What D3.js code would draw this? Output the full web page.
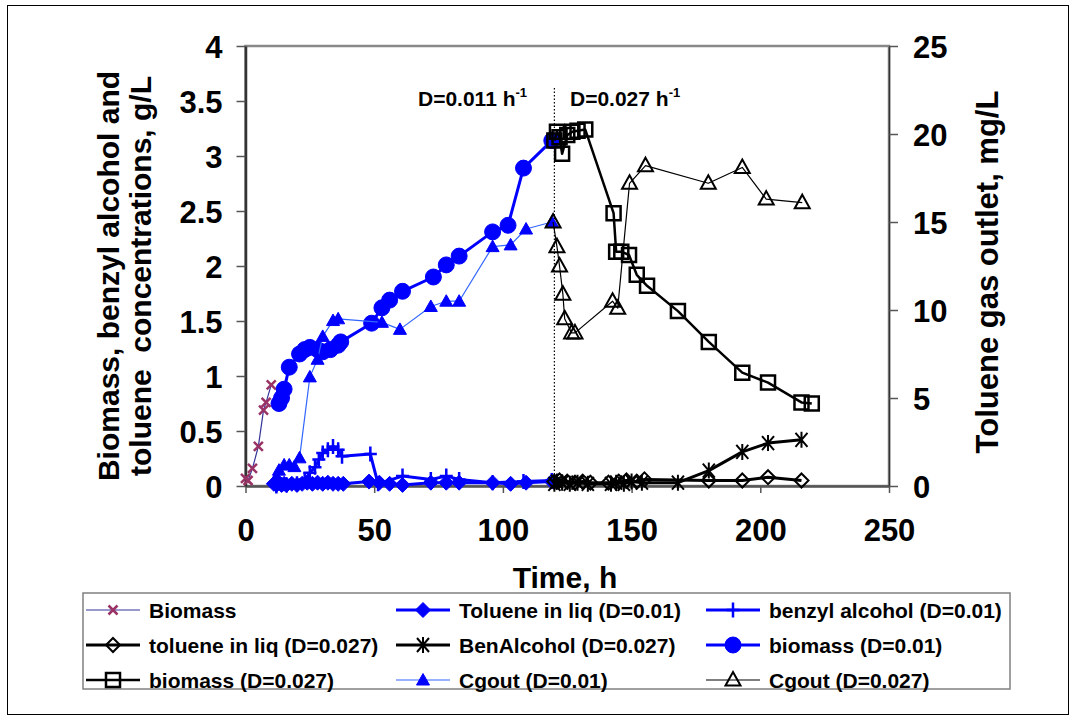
<!DOCTYPE html>
<html><head><meta charset="utf-8">
<script src="https://cdn.jsdelivr.net/npm/d3@7"></script>
<style>body{margin:0;background:#fff}svg{font-family:"Liberation Sans",Arial,sans-serif;font-weight:bold}</style>
</head><body>
<svg id="c" width="1076" height="721"></svg>
<script>
// ---------- data (time h, value) ----------
const biomass = [[0,0.07],[1,0.05],[2.7,0.16],[5,0.36],[7,0.69],[8,0.76],[10,0.92]];
const toluene01 = [[11,0.02],[12,0.01],[13,0.03],[14,0.01],[15,0.02],[16,0.01],[18,0.02],[20,0.01],[22,0.02],[24,0.03],[26,0.02],[28,0.03],[30,0.02],[32,0.03],[34,0.02],[36,0.02],[38,0.02],[48,0.04],[52,0.03],[56,0.02],[61,0.01],[72,0.03],[78,0.03],[83,0.03],[96,0.03],[103,0.02],[109,0.03],[119,0.04]];
const benzyl01 = [[12,0.0],[16,0.01],[20,0.02],[23,0.06],[25,0.12],[27,0.17],[28.5,0.24],[30,0.30],[32,0.33],[34,0.36],[36,0.33],[37.5,0.27],[48.5,0.29],[51.5,0.02],[61,0.09],[72,0.06],[78,0.09],[83,0.06],[96,0.03],[108,0.04],[119,0.05]];
const toluene027 = [[120,0.04],[122,0.05],[125,0.04],[128,0.03],[131,0.04],[134,0.03],[141,0.03],[145,0.04],[148,0.05],[152,0.04],[155,0.06],[180,0.05],[193,0.05],[203,0.08],[216,0.05]];
const benAlc027 = [[120,0.02],[121,0.04],[123,0.03],[126,0.02],[129,0.03],[133,0.02],[142,0.02],[144,0.03],[147,0.02],[150,0.04],[154,0.03],[168,0.03],[180,0.14],[193,0.31],[203,0.39],[216,0.42]];
const biomass01 = [[13,0.75],[14,0.80],[15,0.88],[17,1.08],[21,1.20],[23,1.24],[25,1.26],[28,1.24],[30,1.22],[33,1.24],[36,1.28],[37,1.31],[49,1.48],[53,1.62],[56,1.69],[61,1.77],[73,1.90],[78,2.01],[83,2.09],[96,2.31],[102,2.37],[108,2.89],[119,3.14]];
const biomass027 = [[120,3.14],[121,3.22],[122,3.17],[123,3.02],[125,3.19],[127,3.22],[129,3.23],[132,3.24],[143,2.48],[144,2.13],[146,2.13],[149,2.10],[152,1.92],[156,1.82],[168,1.59],[180,1.31],[193,1.03],[203,0.94],[216,0.76],[220,0.75]];
// gas outlet toluene, mg/L (right axis)
const cgout01 = [[12,0.5],[13,0.9],[15,1.2],[17,1.2],[19,1.1],[21,1.6],[25,6.2],[28,7.2],[30,8.5],[34,9.4],[36,9.5],[53,9.3],[60,8.9],[72,10.2],[78,10.5],[83,10.5],[96,13.6],[103,13.7],[109,14.6],[119,15.0]];
const cgout027 = [[119.5,15.0],[121,13.6],[122,12.5],[123.3,10.9],[124,9.5],[126.7,8.7],[128,8.7],[142.6,10.5],[144.6,10.1],[149.2,17.2],[155.4,18.2],[179.8,17.2],[193,18.1],[202.3,16.3],[216.3,16.1]];

const xTicks = [0,50,100,150,200,250];
const yLTicks = [0,0.5,1,1.5,2,2.5,3,3.5,4];
const yRTicks = [0,5,10,15,20,25];
const dividerT = 120;
const legendLabels = ["Biomass","Toluene in liq (D=0.01)","benzyl alcohol (D=0.01)","toluene in liq (D=0.027)","BenAlcohol (D=0.027)","biomass (D=0.01)","biomass (D=0.027)","Cgout (D=0.01)","Cgout (D=0.027)"];

// ---------- chart ----------
const svg = d3.select("#c");
const x = d3.scaleLinear([0,250],[245.5,889]);
const yL = d3.scaleLinear([0,4],[486,46]);
const yR = d3.scaleLinear([0,25],[486,46]);

svg.append("rect").attr("x",7.5).attr("y",5.5).attr("width",1061).attr("height",709).attr("fill","none").attr("stroke","#000").attr("stroke-width",1);

// plot area border
svg.append("rect").attr("x",x(0)).attr("y",yL(4)).attr("width",x(250)-x(0)).attr("height",yL(0)-yL(4))
  .attr("fill","none").attr("stroke","#888").attr("stroke-width",2.5);

function styleAxis(g, lineColor, lw){
  g.select(".domain").attr("stroke",lineColor).attr("stroke-width",lw);
  g.selectAll(".tick line").attr("stroke","#555").attr("stroke-width",1.5);
  g.selectAll("text").attr("font-size",31).attr("font-weight","bold").attr("fill","#000")
    .attr("font-family",'"Liberation Sans",Arial,sans-serif');
}
const gx = svg.append("g").attr("transform",`translate(0,${yL(0)})`)
  .call(d3.axisBottom(x).tickValues(xTicks).tickSize(7).tickPadding(29).tickSizeOuter(0));
styleAxis(gx,"#555",2.5);
gx.selectAll("text").attr("dy","0.6em");
const gl = svg.append("g").attr("transform",`translate(${x(0)},0)`)
  .call(d3.axisLeft(yL).tickValues(yLTicks).tickFormat(d=>String(d)).tickSize(9).tickPadding(14).tickSizeOuter(0));
styleAxis(gl,"#333",2.5);
gl.selectAll("text").attr("dy","0.36em");
const gr = svg.append("g").attr("transform",`translate(${x(250)},0)`)
  .call(d3.axisRight(yR).tickValues(yRTicks).tickSize(9).tickPadding(15).tickSizeOuter(0));
styleAxis(gr,"#333",1.5);
gr.selectAll("text").attr("dy","0.36em");

// axis titles
svg.append("text").attr("transform","translate(119,276) rotate(-90)").attr("text-anchor","middle").attr("font-size",30).text("Biomass, benzyl alcohol and");
svg.append("text").attr("transform","translate(151,276) rotate(-90)").attr("text-anchor","middle").attr("font-size",30).attr("xml:space","preserve").text("toluene  concentrations, g/L");
svg.append("text").attr("transform","translate(998,272) rotate(-90)").attr("text-anchor","middle").attr("font-size",31).text("Toluene gas outlet, mg/L");
svg.append("text").attr("x",565).attr("y",588).attr("text-anchor","middle").attr("font-size",30).text("Time, h");

// divider & labels
svg.append("line").attr("x1",x(dividerT)).attr("x2",x(dividerT)).attr("y1",88).attr("y2",yL(0))
  .attr("stroke","#000").attr("stroke-width",1.2).attr("stroke-dasharray","1.5,2");
function dLabel(xp,txt){
  const t = svg.append("text").attr("x",xp).attr("y",106).attr("font-size",21);
  t.append("tspan").text(txt);
  t.append("tspan").attr("font-size",13).attr("dy",-9).text("-1");
}
dLabel(418,"D=0.011 h");
dLabel(570,"D=0.027 h");

// markers
const M = {
  xm:{d:"M-4.5,-4.5L4.5,4.5M-4.5,4.5L4.5,-4.5", fill:"none", stroke:"#993366", sw:2.5},
  dfill:{d:"M0,-7.5L7.5,0L0,7.5L-7.5,0Z", fill:"#0000ff", stroke:"#0000ff", sw:1},
  plus:{d:"M-6.5,0H6.5M0,-7.5V7.5", fill:"none", stroke:"#0000ff", sw:2.5},
  dopen:{d:"M0,-7L7,0L0,7L-7,0Z", fill:"none", stroke:"#000", sw:2},
  ast:{d:"M-6,-7L6,7M-6,7L6,-7M0,-8V8", fill:"none", stroke:"#000", sw:2},
  circ:{d:d3.symbol(d3.symbolCircle,200)(), fill:"#0000ff", stroke:"#0000ff", sw:1},
  sq:{d:"M-7,-7H7V7H-7Z", fill:"none", stroke:"#000", sw:2.5},
  tfill:{d:"M0,-6.5L6.5,5H-6.5Z", fill:"#0000ff", stroke:"#0000ff", sw:1},
  topen:{d:"M0,-8L7.5,5.5H-7.5Z", fill:"none", stroke:"#000", sw:2}
};
const series = [
  {data:biomass, y:yL, color:"#333399", lw:1.2, m:"xm"},
  {data:toluene01, y:yL, color:"#0000ff", lw:3, m:"dfill"},
  {data:benzyl01, y:yL, color:"#0000ff", lw:3, m:"plus"},
  {data:toluene027, y:yL, color:"#000", lw:3, m:"dopen"},
  {data:benAlc027, y:yL, color:"#000", lw:3, m:"ast"},
  {data:biomass01, y:yL, color:"#0000ff", lw:3, m:"circ"},
  {data:biomass027, y:yL, color:"#000", lw:2.5, m:"sq"},
  {data:cgout01, y:yR, color:"#3366ff", lw:1.2, m:"tfill"},
  {data:cgout027, y:yR, color:"#000", lw:1.2, m:"topen"}
];
function drawMarker(g, key, tx, ty){
  const m = M[key];
  g.append("path").attr("d",m.d).attr("transform",`translate(${tx},${ty})`)
    .attr("fill",m.fill).attr("stroke",m.stroke).attr("stroke-width",m.sw);
}
series.forEach(s=>{
  const g = svg.append("g");
  g.append("path").attr("d",d3.line().x(d=>x(d[0])).y(d=>s.y(d[1]))(s.data))
    .attr("fill","none").attr("stroke",s.color).attr("stroke-width",s.lw).attr("stroke-linejoin","round");
  s.data.forEach(d=>drawMarker(g,s.m,x(d[0]),s.y(d[1])));
});

// legend
svg.append("rect").attr("x",83).attr("y",593).attr("width",927).attr("height",96)
  .attr("fill","#fff").attr("stroke","#808080").attr("stroke-width",1.5);
const colX = [86,396,706], rowY = [610,645,680];
series.forEach((s,i)=>{
  const cx = colX[i%3], cy = rowY[Math.floor(i/3)];
  const g = svg.append("g");
  g.append("line").attr("x1",cx).attr("x2",cx+54).attr("y1",cy).attr("y2",cy)
    .attr("stroke",s.color).attr("stroke-width",s.lw);
  drawMarker(g,s.m,cx+27,cy);
  g.append("text").attr("x",cx+63).attr("y",cy).attr("dy","0.36em").attr("font-size",21).text(legendLabels[i]);
});
</script>
</body></html>
